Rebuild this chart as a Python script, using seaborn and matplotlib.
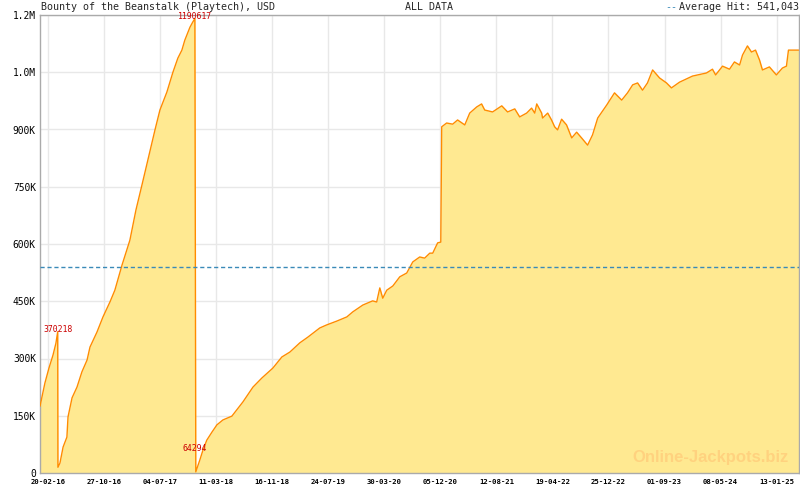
import seaborn as sns
import matplotlib.pyplot as plt
import matplotlib.dates as mdates
from matplotlib.ticker import FixedLocator
import pandas as pd

sns.set_theme(style="white")
plt.rcParams["font.family"] = ["DejaVu Sans Mono", "DejaVu Sans"]

# ── Jackpot history ───────────────────────────────────
dates = [
    "2016-01-15", "2016-02-06", "2016-02-24", "2016-03-13", "2016-03-26", "2016-04-03",
    "2016-04-04", "2016-04-13", "2016-04-27", "2016-05-14", "2016-05-19", "2016-06-06",
    "2016-06-28", "2016-07-20", "2016-08-12", "2016-08-25", "2016-09-25", "2016-10-22",
    "2016-11-22", "2016-12-14", "2017-01-15", "2017-02-19", "2017-03-18", "2017-04-14",
    "2017-05-10", "2017-06-11", "2017-07-03", "2017-08-03", "2017-08-30", "2017-09-21",
    "2017-10-09", "2017-10-22", "2017-11-14", "2017-11-27", "2017-12-06",
    "2017-12-10", "2017-12-28", "2018-01-11", "2018-01-28", "2018-02-20", "2018-03-14",
    "2018-04-10", "2018-05-20", "2018-07-08", "2018-08-22", "2018-10-01", "2018-11-19",
    "2018-12-29", "2019-02-03", "2019-03-19", "2019-04-24", "2019-06-16", "2019-07-17",
    "2019-08-31", "2019-10-15", "2019-11-10", "2019-12-25", "2020-02-07", "2020-02-25",
    "2020-03-10", "2020-03-23", "2020-04-10", "2020-05-07", "2020-06-07", "2020-07-08",
    "2020-08-04", "2020-09-04", "2020-09-26", "2020-10-19", "2020-11-01", "2020-11-23",
    "2020-12-07", "2020-12-11", "2021-01-02", "2021-01-29", "2021-02-20", "2021-03-24",
    "2021-04-15", "2021-05-16", "2021-06-07", "2021-06-21", "2021-07-26", "2021-09-05",
    "2021-10-01", "2021-11-02", "2021-11-24", "2021-12-25", "2022-01-16", "2022-01-30",
    "2022-02-08", "2022-03-02", "2022-03-06", "2022-03-29", "2022-04-15", "2022-04-29",
    "2022-05-12", "2022-05-30", "2022-06-21", "2022-07-14", "2022-08-05", "2022-08-27",
    "2022-09-23", "2022-10-15", "2022-11-07", "2022-12-17", "2023-01-21", "2023-02-22",
    "2023-03-20", "2023-04-12", "2023-05-04", "2023-05-26", "2023-06-17", "2023-07-10",
    "2023-08-10", "2023-09-10", "2023-10-02", "2023-11-07", "2024-01-04", "2024-03-06",
    "2024-04-02", "2024-04-16", "2024-05-17", "2024-06-17", "2024-07-09", "2024-08-01",
    "2024-08-14", "2024-09-05", "2024-09-23", "2024-10-11", "2024-10-29", "2024-11-11",
    "2024-12-12", "2025-01-12", "2025-02-08", "2025-02-26", "2025-03-07", "2025-04-21",
]
values = [
    175000, 236000, 275000, 309000, 340000, 370218,
    15000, 26000, 68000, 94000, 147000, 197000,
    225000, 265000, 296000, 330000, 369000, 409000,
    448000, 479000, 545000, 610000, 689000, 755000,
    820000, 899000, 951000, 998000, 1050000, 1087000,
    1108000, 1134000, 1168000, 1182000, 1190617,
    3000, 34000, 60000, 86000, 107000, 126000,
    139000, 149000, 186000, 225000, 249000, 275000,
    304000, 317000, 341000, 356000, 380000, 388000,
    398000, 409000, 422000, 440000, 451000, 448000,
    485000, 458000, 479000, 490000, 514000, 524000,
    553000, 566000, 563000, 576000, 576000, 603000,
    605000, 907000, 917000, 914000, 925000, 912000,
    943000, 959000, 967000, 951000, 946000, 962000,
    946000, 954000, 933000, 943000, 956000, 943000,
    967000, 943000, 930000, 943000, 925000, 907000,
    899000, 927000, 912000, 878000, 893000, 878000,
    859000, 886000, 930000, 964000, 996000, 977000,
    996000, 1017000, 1022000, 1003000, 1022000, 1056000,
    1035000, 1022000, 1009000, 1024000, 1040000, 1048000,
    1058000, 1043000, 1066000, 1058000, 1077000, 1069000,
    1095000, 1119000, 1103000, 1108000, 1082000, 1056000,
    1064000, 1043000, 1061000, 1066000, 1108000, 1108000,
]

avg_hit = 541043

# red value marks
mark_dates = ["2016-04-03", "2017-12-06", "2017-12-06"]
mark_values = [370218, 1190617, 64294]
mark_texts = ["370218", "1190617", "64294"]

xtick_labels = ["20-02-16", "27-10-16", "04-07-17", "11-03-18", "16-11-18", "24-07-19",
                "30-03-20", "05-12-20", "12-08-21", "19-04-22", "25-12-22", "01-09-23",
                "08-05-24", "13-01-25"]
ytick_values = [0, 150000, 300000, 450000, 600000, 750000, 900000, 1050000, 1200000]
ytick_labels = ["0", "150K", "300K", "450K", "600K", "750K", "900K", "1.0M", "1.2M"]

df = pd.DataFrame({"date": pd.to_datetime(dates), "value": values})

# ── Figure ────────────────────────────────────────────
fig = plt.figure(figsize=(8, 4.9), dpi=100)
ax = fig.add_axes([40 / 800, 17 / 490, 759 / 800, 458 / 490])

ax.fill_between(df["date"], df["value"], 0, color="#FFE991", lw=0, zorder=2)
sns.lineplot(data=df, x="date", y="value", color="#FF8C00", lw=1.0,
             estimator=None, sort=False, ax=ax, zorder=3)
ax.axhline(avg_hit, color="#3a8ab8", lw=1, dashes=(3, 2), zorder=4)

for d, v, t in zip(mark_dates, mark_values, mark_texts):
    va = "center" if v < 100000 else "baseline"
    ax.text(pd.Timestamp(d), v, t, color="#cc0000", fontsize=5.9,
            ha="center", va=va, zorder=5, clip_on=False)

# axes limits / ticks
ax.set_xlim(pd.Timestamp("2016-01-15"), pd.Timestamp("2025-04-23"))
ax.set_ylim(0, 1200000)

majors = pd.to_datetime(xtick_labels, format="%d-%m-%y")
step = (majors[1] - majors[0]) / 6
minors = [majors[0] + step * i for i in range(-1, 6 * len(majors) + 4)]
ax.set_xticks(majors)
ax.set_xticklabels(xtick_labels, fontsize=5.2, fontweight="bold", color="black")
ax.xaxis.set_minor_locator(FixedLocator(mdates.date2num(minors)))
ax.set_yticks(ytick_values)
ax.set_yticklabels(ytick_labels, fontsize=6.9, color="black")

ax.tick_params(axis="x", which="major", direction="in", length=4.3, width=1,
               color="#aaaaaa", pad=4)
ax.tick_params(axis="x", which="minor", direction="in", length=2.2, width=1,
               color="#aaaaaa")
ax.tick_params(axis="y", length=0, pad=3)

ax.grid(True, which="major", color="#e8e8e8", lw=1, zorder=0)
ax.set_axisbelow(True)
for s in ax.spines.values():
    s.set_color("#aaaaaa")
    s.set_linewidth(1)
ax.set_xlabel("")
ax.set_ylabel("")

# header row
fig.text(41 / 800, 1 - 7 / 490, "Bounty of the Beanstalk (Playtech), USD",
         fontsize=7.2, ha="left", va="center")
fig.text(429 / 800, 1 - 7 / 490, "ALL DATA", fontsize=7.2, ha="center", va="center")
fig.text(799 / 800, 1 - 7 / 490, "Average Hit: 541,043", fontsize=7.2,
         ha="right", va="center")
fig.text(677 / 800, 1 - 7 / 490, "--", fontsize=7.2, color="#3a8ab8",
         ha="right", va="center")

# watermark
fig.text(789 / 800, (490 - 462) / 490, "Online-Jackpots.biz", fontsize=12,
         fontweight="bold", family="Liberation Sans", color="#FFD27F",
         ha="right", va="baseline", zorder=1)

plt.savefig("out.png", dpi=100)
